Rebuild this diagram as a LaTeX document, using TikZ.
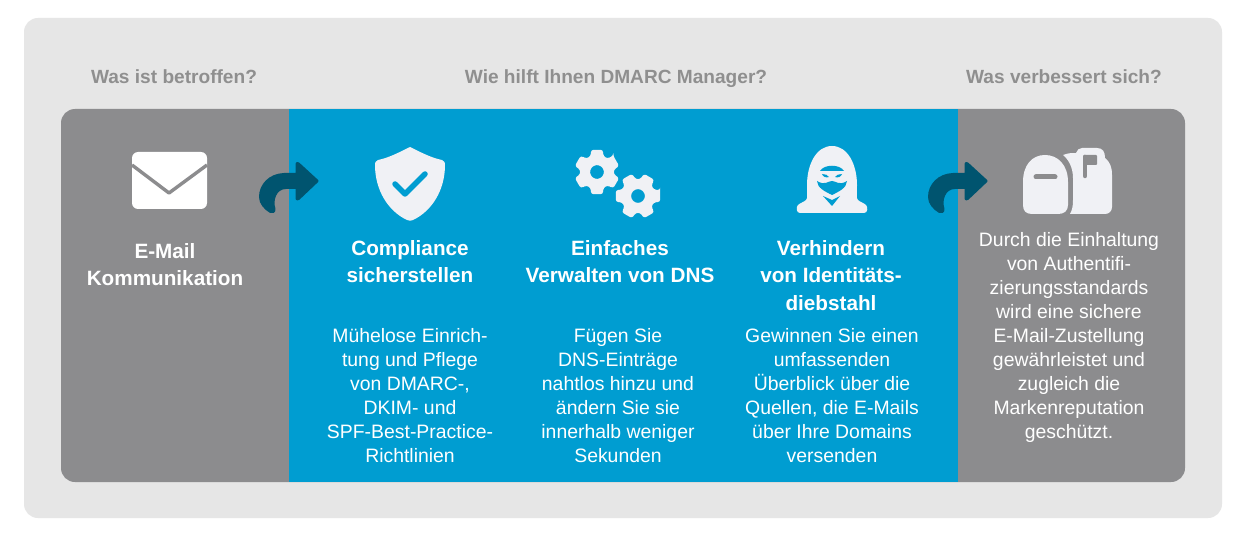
\documentclass[tikz,border=0pt]{standalone}
\usepackage{fontspec}
\setmainfont{Liberation Sans}
\definecolor{outer}{HTML}{E6E6E6}
\definecolor{panelgray}{HTML}{8C8C8E}
\definecolor{panelblue}{HTML}{009DD1}
\definecolor{arrowteal}{HTML}{00546F}
\definecolor{iconwhite}{HTML}{F0F1F5}
\definecolor{headgray}{HTML}{8F8F8F}
\tikzset{
  x=1pt,y=-1pt,
  head/.style={text=headgray,font=\fontsize{19.1}{23}\selectfont\bfseries,anchor=base,inner sep=0pt},
  title/.style={text=white,font=\fontsize{20.7}{27.5}\selectfont\bfseries,align=center,anchor=north,inner sep=0pt},
  body/.style={text=white,font=\fontsize{19.4}{24}\selectfont,align=center,anchor=north,inner sep=0pt},
  icon/.style={fill=iconwhite,draw=none},
  turn/.style={fill=arrowteal,draw=arrowteal,line width=3pt,line join=round}
}
\newcommand{\gearicon}[4]{% centre x, y, radius, start angle
  \begin{scope}[shift={(#1,#2)},rotate=#4]
  \fill[icon,rounded corners=2.5pt,even odd rule]
    (-15:#3)
    \foreach \k in {0,60,...,300}{
      -- (\k-15:#3) -- (\k+15:#3) -- (\k+22:#3*0.74) -- (\k+38:#3*0.74)
    } -- cycle
    (0,0) circle[radius=0.30*#3];
  \end{scope}
}
\newcommand{\turnarrow}[1]{% left offset of the arrow
  \begin{scope}[xshift=#1pt]
  \path[turn] (-2,181)
    -- (-20.5,164) .. controls (-22,163) and (-22,163.5) .. (-22,165)
    -- (-22,174.5) -- (-35,174.5)
    .. controls (-49,175) and (-58.5,185) .. (-58.5,197)
    .. controls (-58.5,203) and (-54,208) .. (-48.5,211.5)
    .. controls (-46,212.5) and (-44,211) .. (-45,209)
    .. controls (-48,200) and (-44,187.5) .. (-33,187.5)
    -- (-22,187.5) -- (-22,197) .. controls (-22,199) and (-22,199.5) .. (-20.5,198.5) -- cycle;
  \end{scope}
}
\begin{document}
\begin{tikzpicture}
\useasboundingbox (0,0) rectangle (1240,548);
\fill[white] (0,0) rectangle (1240,548);
\fill[outer,rounded corners=14pt] (24,18) rectangle (1222,518);
\fill[panelgray,rounded corners=14pt] (61,109) rectangle (1185,482);
\fill[panelblue] (289,109) rectangle (958,482);

\node[head] (h1) at (174,84) {Was ist betroffen?};
\node[head] (h2) at (616,84) {Wie hilft Ihnen DMARC Manager?};
\node[head] (h3) at (1064,84) {Was verbessert sich?};

% envelope
\fill[white,rounded corners=6pt] (132,152) rectangle (207,209);
\draw[panelgray,line width=3.4pt,line join=round] (132,165) -- (169,193) -- (207,165);

% shield
\fill[icon] (410,147) .. controls (398,153) and (388,158) .. (378,160)
  .. controls (375,161) and (375,163) .. (375,165)
  .. controls (375,190) and (388,211) .. (407,220)
  .. controls (409,221) and (411,221) .. (413,220)
  .. controls (432,211) and (445,190) .. (445,165)
  .. controls (445,163) and (445,161) .. (442,160)
  .. controls (432,158) and (422,153) .. (410,147) -- cycle;
\draw[panelblue,line width=5.5pt,line cap=round,line join=round] (395,184) -- (405,194) -- (425,174);

% gears
\gearicon{597}{172}{23}{30}
\gearicon{638}{196}{23}{0}

% hacker
\fill[icon] (832,146) .. controls (816,146) and (807,165) .. (807,185)
  .. controls (807,194) and (808,198) .. (806,200)
  .. controls (804,202) and (800,203) .. (798,205)
  .. controls (796,207) and (796,213) .. (800,213)
  -- (864,213) .. controls (868,213) and (868,207) .. (866,205)
  .. controls (864,203) and (860,202) .. (858,200)
  .. controls (856,198) and (857,194) .. (857,185)
  .. controls (857,165) and (848,146) .. (832,146) -- cycle;
\fill[panelblue] (820,171) .. controls (824,164) and (840,164) .. (844,171) -- cycle;
\fill[panelblue] (817,181) .. controls (825,186) and (828,181) .. (832,181)
  .. controls (836,181) and (839,186) .. (847,181)
  .. controls (847,188) and (838,192) .. (832,195)
  .. controls (826,192) and (817,188) .. (817,181) -- cycle;
\fill[panelblue] (823,196) -- (832,206) -- (840,196) -- (832,200) -- cycle;
\fill[panelblue] (822,174) .. controls (825,174) and (828,175) .. (829,177) .. controls (826,178) and (823,177) .. (822,174) -- cycle;
\fill[panelblue] (842,174) .. controls (839,174) and (836,175) .. (835,177) .. controls (838,178) and (841,177) .. (842,174) -- cycle;

% mailbox
\fill[icon] (1082,148) -- (1097,148) .. controls (1103,148) and (1105,152) .. (1105,158)
  .. controls (1110,162) and (1112,167) .. (1112,175) -- (1112,207)
  .. controls (1112,211) and (1109,214) .. (1105,214) -- (1070,214)
  .. controls (1072,210) and (1073,207) .. (1073,200) -- (1073,178)
  .. controls (1073,167) and (1068,159) .. (1063,155)
  .. controls (1068,153) and (1072,153) .. (1076,153) .. controls (1077,150) and (1079,148) .. (1082,148) -- cycle;
\fill[icon] (1023,182) .. controls (1023,165) and (1032,155) .. (1045,155)
  .. controls (1058,155) and (1068,165) .. (1068,182) -- (1068,205)
  .. controls (1068,211) and (1064,214) .. (1058,214) -- (1032,214)
  .. controls (1026,214) and (1023,211) .. (1023,205) -- cycle;
\draw[panelgray,line width=5pt,line cap=round] (1036,177) -- (1055,177);
\draw[panelgray,line width=4.5pt,line cap=round] (1085,176) -- (1085,157);
\fill[panelgray,rounded corners=1pt] (1083,155) rectangle (1097,165);

% arrows
\turnarrow{319}
\turnarrow{988}

% column texts
\node[title] (t1) at (165,243) {E-Mail\\Kommunikation};
\node[title] (t2) at (410,240) {Compliance\\sicherstellen};
\node[title] (t3) at (620,240) {Einfaches\\Verwalten von DNS};
\node[title] (t4) at (831,240) {Verhindern\\von Identitäts-\\diebstahl};
\node[body] (b2) at (410,328) {Mühelose Einrich-\\tung und Pflege\\von DMARC-,\\DKIM- und\\SPF-Best-Practice-\\Richtlinien};
\node[body] (b3) at (618,328) {Fügen Sie\\DNS-Einträge\\nahtlos hinzu und\\ändern Sie sie\\innerhalb weniger\\Sekunden};
\node[body] (b4) at (832,328) {Gewinnen Sie einen\\umfassenden\\Überblick über die\\Quellen, die E-Mails\\über Ihre Domains\\versenden};
\node[body] (b5) at (1069,232) {Durch die Einhaltung\\von Authentifi-\\zierungsstandards\\wird eine sichere\\E-Mail-Zustellung\\gewährleistet und\\zugleich die\\Markenreputation\\geschützt.};
\end{tikzpicture}
\end{document}
